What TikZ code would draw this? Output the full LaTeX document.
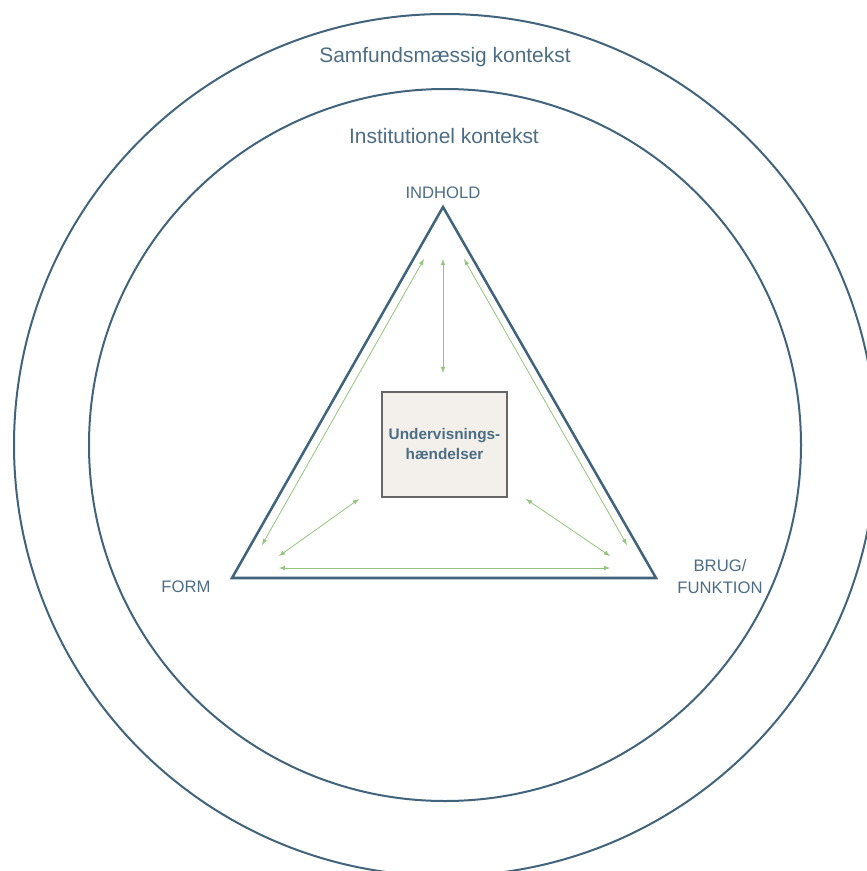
\documentclass[tikz,border=0pt]{standalone}
\usepackage{fontspec}
\setmainfont{Liberation Sans}
\usetikzlibrary{positioning}
\definecolor{slate}{HTML}{41647C}
\definecolor{slatetext}{HTML}{4D6D84}
\definecolor{leaf}{HTML}{93C47D}
\definecolor{paper}{HTML}{F3F0EC}
\definecolor{boxline}{HTML}{666666}
\begin{document}
\begin{tikzpicture}[>=latex, x=0.75pt, y=-0.75pt,
		ring/.style={draw=slate, line width=1.5pt},
		context/.style={text=slatetext, font=\fontsize{15.7}{18}\selectfont, anchor=base, inner sep=0pt},
		corner/.style={text=slatetext, font=\fontsize{12.5}{16.5}\selectfont, align=center, inner sep=0pt},
		link/.style={<->, leaf, line width=0.6pt}]
			\useasboundingbox (0,0) rectangle (867,871);
			\clip (0,0) rectangle (867,871);

			\draw[ring] (445,445) circle (323.25pt);
			\draw[ring] (445,445) circle (267pt);
			\node[context] (society) at (445,62) {Samfundsmæssig kontekst};
			\node[context] (institution) at (444,143) {Institutionel kontekst};

			\coordinate (top) at (443,207);
			\coordinate (left) at (232,578);
			\coordinate (right) at (656,578);
			\draw[slate, line width=1.9pt, line join=miter] (top) -- (left) -- (right) -- cycle;

			\node[corner, anchor=base] (content) at (443,198) {INDHOLD};
			\node[corner, anchor=base] (form) at (186,592) {FORM};
			\node[corner] (use) at (720,577) {BRUG/\\FUNKTION};

			\node[draw=boxline, line width=1.1pt, fill=paper, minimum width=93.75pt, minimum height=78.75pt,
				text=slatetext, font=\bfseries\fontsize{11.5}{15}\selectfont, align=center] (events) at (444.5,444.5)
				{Undervisnings-\\hændelser};

			\coordinate (inT) at (443,259); \coordinate (inB) at (443,373);
			\coordinate (lfT) at (424,259); \coordinate (lfB) at (262,545);
			\coordinate (rtT) at (464,259); \coordinate (rtB) at (627,545);
			\coordinate (btL) at (279,568); \coordinate (btR) at (610,568);
			\coordinate (dlT) at (359,499); \coordinate (dlB) at (279,556);
			\coordinate (drT) at (526,499); \coordinate (drB) at (610,556);

			\foreach \s/\e in {inT/inB, lfT/lfB, rtT/rtB, btL/btR, dlT/dlB, drT/drB}
				{
					\draw[link] (\s) -- (\e);
				}
		\end{tikzpicture}
\end{document}
